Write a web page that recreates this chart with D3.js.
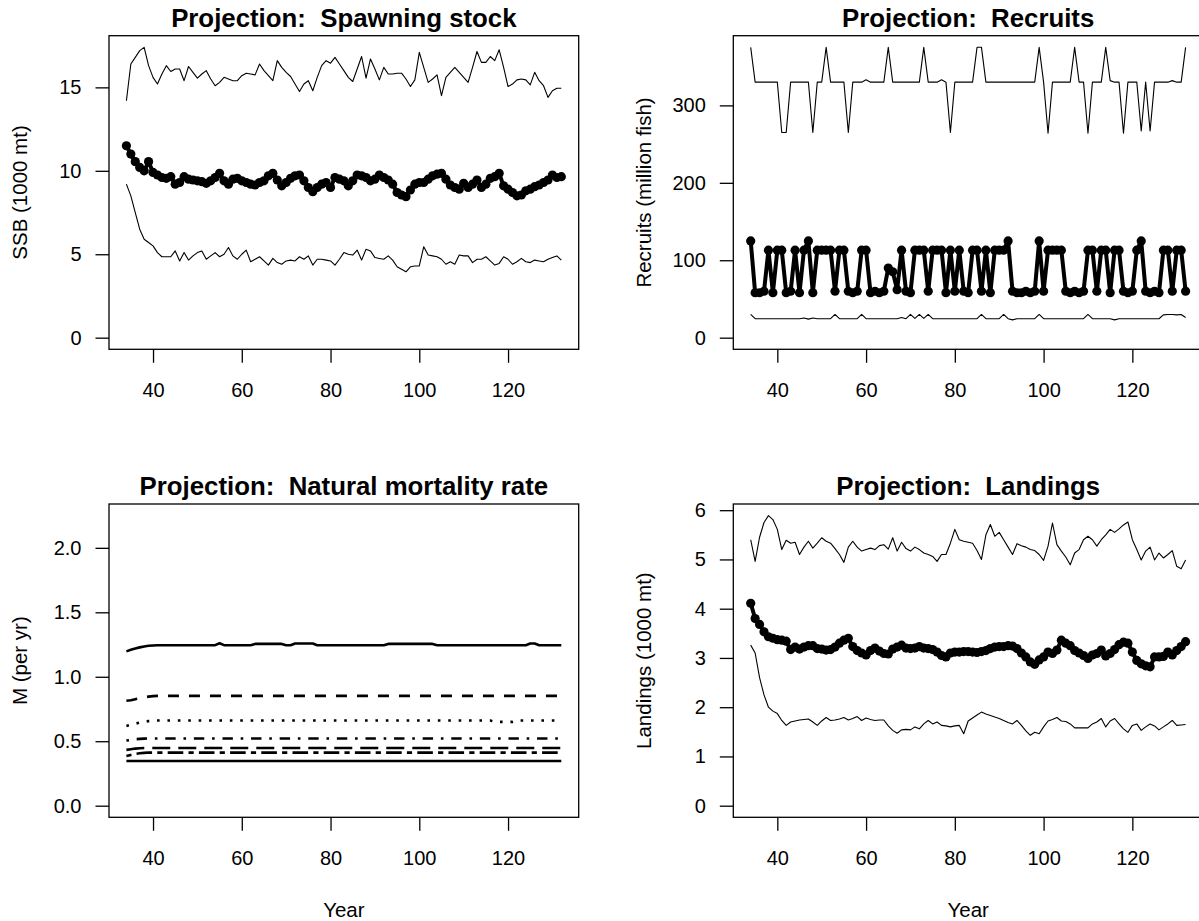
<!DOCTYPE html>
<html>
<head>
<meta charset="utf-8">
<script src="https://cdnjs.cloudflare.com/ajax/libs/d3/7.8.5/d3.min.js"></script>
<style>
  body { margin: 0; background: #fff; }
  svg { display: block; }
  text { font-family: "Liberation Sans", Arial, sans-serif; fill: #000; }
</style>
</head>
<body>
<svg></svg>
<script>
    /* data, years 34..132 */
    const years = d3.range(34, 133)
    const xTicks = [40, 60, 80, 100, 120]

    const ssbHigh = [14.2, 16.4, 16.8, 17.2, 17.4, 16.3, 15.6, 15.2, 15.8, 16.3,
        15.95, 16.1, 16.1, 15.4, 16.25, 15.9, 15.55, 15.8, 16.0, 15.5,
        15.1, 15.3, 15.6, 15.5, 15.4, 15.4, 15.7, 15.85, 15.8, 15.75,
        16.4, 16.0, 15.7, 15.4, 16.6, 16.2, 15.9, 15.65, 15.2, 14.75,
        15.2, 15.4, 14.8, 15.6, 16.3, 16.6, 16.45, 16.8, 16.4, 16.0,
        15.6, 15.35, 16.1, 16.85, 15.55, 16.7, 16.1, 15.45, 16.2, 15.8,
        15.8, 15.85, 15.85, 15.5, 15.05, 15.45, 17.1, 16.2, 15.3, 15.5,
        15.75, 14.5, 15.6, 15.9, 16.2, 15.9, 15.6, 15.3, 16.2, 17.15,
        16.5, 16.5, 16.85, 16.6, 17.25, 16.2, 15.05, 15.2, 15.45, 15.5,
        15.45, 15.15, 15.9, 15.4, 15.1, 14.4, 14.8, 14.95, 14.95]
    const ssbMid = [11.5, 11.0, 10.55, 10.2, 10.0, 10.55, 9.9, 9.75, 9.6, 9.55,
        9.65, 9.2, 9.3, 9.65, 9.5, 9.45, 9.4, 9.35, 9.25, 9.4,
        9.6, 9.85, 9.4, 9.2, 9.5, 9.55, 9.4, 9.3, 9.2, 9.15,
        9.3, 9.4, 9.7, 9.85, 9.45, 9.1, 9.3, 9.55, 9.7, 9.75,
        9.4, 9.0, 8.75, 9.0, 9.2, 9.3, 9.0, 9.6, 9.5, 9.4,
        9.1, 9.4, 9.75, 9.7, 9.6, 9.4, 9.5, 9.75, 9.6, 9.45,
        9.2, 8.7, 8.55, 8.45, 8.85, 9.2, 9.3, 9.3, 9.5, 9.7,
        9.8, 9.85, 9.5, 9.15, 9.0, 8.9, 9.25, 9.0, 9.2, 9.45,
        9.0, 9.2, 9.55, 9.65, 9.85, 9.1, 8.9, 8.7, 8.5, 8.55,
        8.8, 8.9, 9.05, 9.15, 9.3, 9.45, 9.75, 9.6, 9.65]
    const ssbLow = [9.2, 8.5, 7.5, 6.5, 5.9, 5.7, 5.5, 5.1, 4.85, 4.85,
        4.85, 5.2, 4.6, 5.1, 4.65, 4.9, 5.1, 5.2, 4.7, 4.9,
        5.1, 4.85, 5.0, 5.4, 4.9, 4.7, 5.0, 5.25, 4.55, 4.7,
        4.85, 4.6, 4.35, 4.75, 4.5, 4.4, 4.6, 4.65, 4.6, 4.85,
        4.7, 4.9, 4.35, 4.7, 4.7, 4.65, 4.6, 4.35, 4.7, 5.1,
        5.0, 4.95, 5.25, 4.65, 5.3, 5.2, 4.8, 4.75, 4.7, 4.9,
        4.65, 4.25, 4.1, 3.95, 4.25, 4.3, 4.3, 5.45, 4.95, 4.9,
        4.85, 4.7, 4.4, 4.55, 4.4, 4.95, 4.9, 4.9, 4.5, 4.7,
        4.7, 4.85, 4.6, 4.35, 4.45, 4.85, 4.7, 4.4, 4.55, 4.75,
        4.55, 4.5, 4.65, 4.6, 4.55, 4.7, 4.8, 4.9, 4.65]

    const recHigh = [375, 330, 330, 330, 330, 330, 330, 265, 265, 330,
        330, 330, 330, 330, 265, 330, 330, 375, 330, 330,
        330, 330, 265, 330, 330, 330, 333, 330, 330, 330,
        330, 375, 330, 330, 330, 330, 330, 330, 330, 375,
        330, 330, 330, 333, 330, 265, 330, 330, 330, 330,
        330, 375, 375, 330, 330, 330, 330, 330, 330, 330,
        330, 330, 330, 330, 330, 375, 330, 264, 330, 330,
        330, 330, 330, 375, 330, 330, 264, 330, 330, 330,
        375, 332, 330, 330, 264, 330, 330, 330, 267, 330,
        267, 330, 330, 330, 330, 332, 330, 330, 375]
    const recMid = [125, 58, 58, 60, 113, 58, 113, 113, 58, 60,
        113, 58, 113, 125, 58, 113, 113, 113, 113, 60,
        113, 113, 60, 58, 60, 113, 113, 58, 60, 58,
        60, 90, 85, 62, 113, 60, 58, 113, 113, 113,
        60, 113, 113, 113, 58, 113, 60, 113, 60, 58,
        113, 113, 60, 113, 58, 113, 113, 113, 125, 60,
        58, 58, 60, 58, 60, 125, 60, 113, 113, 113,
        113, 60, 58, 60, 58, 60, 113, 113, 60, 113,
        113, 58, 113, 113, 60, 58, 60, 113, 125, 60,
        58, 60, 58, 113, 113, 60, 113, 113, 60]
    const recLow = [30, 24.5, 24.5, 24.5, 24.5, 24.5, 24.5, 24.5, 24.5, 24.5,
        24.5, 24.5, 25.5, 24, 25.5, 24.5, 24.5, 24.5, 24.5, 30,
        24.5, 24.5, 24.5, 24.5, 24.5, 30, 24.5, 24.5, 24.5, 24.5,
        24.5, 24.5, 24.5, 24.5, 26, 24.5, 30, 25, 30, 25,
        30, 24.5, 24.5, 24.5, 24.5, 24.5, 24.5, 24.5, 24.5, 24.5,
        24.5, 24.5, 30, 24.5, 24.5, 24.5, 24.5, 30, 24.5, 23,
        24.5, 24.5, 24.5, 24.5, 24.5, 30, 24.5, 24.5, 24.5, 24.5,
        24.5, 24.5, 24.5, 24.5, 24.5, 24.5, 30, 24.5, 24.5, 24.5,
        24.5, 24.5, 23, 24.5, 24.5, 24.5, 24.5, 24.5, 24.5, 24.5,
        24.5, 24.5, 24.5, 29.5, 30, 30, 29.5, 30, 26]

    const mLine1 = [1.197, 1.21, 1.22, 1.228, 1.235, 1.24, 1.243, 1.245, 1.245, 1.245,
        1.245, 1.245, 1.245, 1.245, 1.245, 1.245, 1.245, 1.245, 1.245, 1.245,
        1.245, 1.26, 1.245, 1.245, 1.245, 1.245, 1.245, 1.245, 1.245, 1.255,
        1.255, 1.255, 1.255, 1.255, 1.255, 1.255, 1.245, 1.245, 1.258, 1.258,
        1.258, 1.258, 1.258, 1.245, 1.245, 1.245, 1.245, 1.245, 1.245, 1.245,
        1.245, 1.245, 1.245, 1.245, 1.245, 1.245, 1.245, 1.245, 1.245, 1.255,
        1.255, 1.255, 1.255, 1.255, 1.255, 1.255, 1.255, 1.255, 1.255, 1.255,
        1.245, 1.245, 1.245, 1.245, 1.245, 1.245, 1.245, 1.245, 1.245, 1.245,
        1.245, 1.245, 1.245, 1.245, 1.245, 1.245, 1.245, 1.245, 1.245, 1.245,
        1.245, 1.258, 1.258, 1.245, 1.245, 1.245, 1.245, 1.245, 1.245]
    const mLine2 = [0.814, 0.818, 0.826, 0.834, 0.84, 0.846, 0.85, 0.852, 0.852, 0.852,
        0.852, 0.852, 0.852, 0.852, 0.852, 0.852, 0.852, 0.852, 0.852, 0.852,
        0.852, 0.852, 0.852, 0.852, 0.852, 0.852, 0.852, 0.852, 0.852, 0.852,
        0.852, 0.852, 0.852, 0.852, 0.852, 0.852, 0.852, 0.852, 0.852, 0.852,
        0.852, 0.852, 0.852, 0.852, 0.852, 0.852, 0.852, 0.852, 0.852, 0.852,
        0.852, 0.852, 0.852, 0.852, 0.852, 0.852, 0.852, 0.852, 0.852, 0.852,
        0.852, 0.852, 0.852, 0.852, 0.852, 0.852, 0.852, 0.852, 0.852, 0.852,
        0.852, 0.852, 0.852, 0.852, 0.852, 0.852, 0.852, 0.852, 0.852, 0.852,
        0.852, 0.852, 0.852, 0.852, 0.852, 0.852, 0.852, 0.852, 0.852, 0.852,
        0.852, 0.852, 0.852, 0.852, 0.852, 0.852, 0.852, 0.852, 0.852]
    const mLine3 = [0.619, 0.628, 0.636, 0.645, 0.651, 0.656, 0.659, 0.661, 0.661, 0.661,
        0.661, 0.661, 0.661, 0.661, 0.661, 0.661, 0.661, 0.661, 0.661, 0.661,
        0.661, 0.661, 0.661, 0.661, 0.661, 0.661, 0.661, 0.661, 0.661, 0.661,
        0.661, 0.661, 0.661, 0.661, 0.661, 0.661, 0.661, 0.661, 0.661, 0.661,
        0.661, 0.661, 0.661, 0.661, 0.661, 0.661, 0.661, 0.661, 0.661, 0.661,
        0.661, 0.661, 0.661, 0.661, 0.661, 0.661, 0.661, 0.661, 0.661, 0.661,
        0.661, 0.661, 0.661, 0.661, 0.661, 0.661, 0.661, 0.661, 0.661, 0.661,
        0.661, 0.661, 0.661, 0.661, 0.661, 0.661, 0.661, 0.661, 0.661, 0.661,
        0.661, 0.661, 0.661, 0.65, 0.65, 0.65, 0.65, 0.65, 0.661, 0.661,
        0.661, 0.661, 0.661, 0.661, 0.661, 0.661, 0.661, 0.661, 0.661]
    const mLine4 = [0.505, 0.51, 0.516, 0.518, 0.52, 0.521, 0.521, 0.521, 0.521, 0.521,
        0.521, 0.521, 0.521, 0.521, 0.521, 0.521, 0.521, 0.521, 0.521, 0.521,
        0.521, 0.521, 0.521, 0.521, 0.521, 0.521, 0.521, 0.521, 0.521, 0.521,
        0.521, 0.521, 0.521, 0.521, 0.521, 0.521, 0.521, 0.521, 0.521, 0.521,
        0.521, 0.521, 0.521, 0.521, 0.521, 0.521, 0.521, 0.521, 0.521, 0.521,
        0.521, 0.521, 0.521, 0.521, 0.521, 0.521, 0.521, 0.521, 0.521, 0.521,
        0.521, 0.521, 0.521, 0.521, 0.521, 0.521, 0.521, 0.521, 0.521, 0.521,
        0.521, 0.521, 0.521, 0.521, 0.521, 0.521, 0.521, 0.521, 0.521, 0.521,
        0.521, 0.521, 0.521, 0.521, 0.521, 0.521, 0.521, 0.521, 0.521, 0.521,
        0.521, 0.521, 0.521, 0.521, 0.521, 0.521, 0.521, 0.521, 0.521]
    const mLine5 = [0.433, 0.438, 0.443, 0.446, 0.448, 0.448, 0.448, 0.448, 0.448, 0.448,
        0.448, 0.448, 0.448, 0.448, 0.448, 0.448, 0.448, 0.448, 0.448, 0.448,
        0.448, 0.448, 0.448, 0.448, 0.448, 0.448, 0.448, 0.448, 0.448, 0.448,
        0.448, 0.448, 0.448, 0.448, 0.448, 0.448, 0.448, 0.448, 0.448, 0.448,
        0.448, 0.448, 0.448, 0.448, 0.448, 0.448, 0.448, 0.448, 0.448, 0.448,
        0.448, 0.448, 0.448, 0.448, 0.448, 0.448, 0.448, 0.448, 0.448, 0.448,
        0.448, 0.448, 0.448, 0.448, 0.448, 0.448, 0.448, 0.448, 0.448, 0.448,
        0.448, 0.448, 0.448, 0.448, 0.448, 0.448, 0.448, 0.448, 0.448, 0.448,
        0.448, 0.448, 0.448, 0.448, 0.448, 0.448, 0.448, 0.448, 0.448, 0.448,
        0.448, 0.448, 0.448, 0.448, 0.448, 0.448, 0.448, 0.448, 0.448]
    const mLine6 = [0.386, 0.394, 0.402, 0.407, 0.41, 0.412, 0.412, 0.412, 0.412, 0.412,
        0.412, 0.412, 0.412, 0.412, 0.412, 0.412, 0.412, 0.412, 0.412, 0.412,
        0.412, 0.412, 0.412, 0.412, 0.412, 0.412, 0.412, 0.412, 0.412, 0.412,
        0.412, 0.412, 0.412, 0.412, 0.412, 0.412, 0.412, 0.412, 0.412, 0.412,
        0.412, 0.412, 0.412, 0.412, 0.412, 0.412, 0.412, 0.412, 0.412, 0.412,
        0.412, 0.412, 0.412, 0.412, 0.412, 0.412, 0.412, 0.412, 0.412, 0.412,
        0.412, 0.412, 0.412, 0.412, 0.412, 0.412, 0.412, 0.412, 0.412, 0.412,
        0.412, 0.412, 0.412, 0.412, 0.412, 0.412, 0.412, 0.412, 0.412, 0.412,
        0.412, 0.412, 0.412, 0.412, 0.412, 0.412, 0.412, 0.412, 0.412, 0.412,
        0.412, 0.412, 0.412, 0.412, 0.412, 0.412, 0.412, 0.412, 0.412]
    const mLine7 = [0.347, 0.347, 0.347, 0.347, 0.347, 0.347, 0.347, 0.347, 0.347, 0.347,
        0.347, 0.347, 0.347, 0.347, 0.347, 0.347, 0.347, 0.347, 0.347, 0.347,
        0.347, 0.347, 0.347, 0.347, 0.347, 0.347, 0.347, 0.347, 0.347, 0.347,
        0.347, 0.347, 0.347, 0.347, 0.347, 0.347, 0.347, 0.347, 0.347, 0.347,
        0.347, 0.347, 0.347, 0.347, 0.347, 0.347, 0.347, 0.347, 0.347, 0.347,
        0.347, 0.347, 0.347, 0.347, 0.347, 0.347, 0.347, 0.347, 0.347, 0.347,
        0.347, 0.347, 0.347, 0.347, 0.347, 0.347, 0.347, 0.347, 0.347, 0.347,
        0.347, 0.347, 0.347, 0.347, 0.347, 0.347, 0.347, 0.347, 0.347, 0.347,
        0.347, 0.347, 0.347, 0.347, 0.347, 0.347, 0.347, 0.347, 0.347, 0.347,
        0.347, 0.347, 0.347, 0.347, 0.347, 0.347, 0.347, 0.347, 0.347]

    const landHigh = [5.40, 4.96, 5.45, 5.75, 5.89, 5.81, 5.61, 5.2, 5.39, 5.33,
        5.35, 5.1, 5.25, 5.37, 5.23, 5.33, 5.44, 5.37, 5.33, 5.22,
        5.1, 4.94, 5.25, 5.37, 5.25, 5.17, 5.2, 5.23, 5.2, 5.28,
        5.3, 5.21, 5.44, 5.17, 5.35, 5.22, 5.17, 5.25, 5.2, 5.13,
        5.1, 5.06, 4.96, 5.1, 5.1, 5.33, 5.61, 5.4, 5.37, 5.35,
        5.33, 5.18, 5.0, 5.5, 5.71, 5.47, 5.55, 5.4, 5.25, 5.1,
        5.32, 5.28, 5.25, 5.2, 5.18, 5.1, 4.98, 5.27, 5.74, 5.3,
        5.17, 5.05, 4.89, 5.13, 5.2, 5.4, 5.47, 5.4, 5.27, 5.4,
        5.5, 5.61, 5.55, 5.62, 5.7, 5.76, 5.4, 5.2, 4.99, 5.17,
        5.25, 4.99, 5.13, 5.03, 5.1, 5.18, 4.86, 4.81, 4.99]
    const landMid = [4.11, 3.8, 3.68, 3.53, 3.43, 3.40, 3.37, 3.36, 3.34, 3.17,
        3.22, 3.18, 3.22, 3.25, 3.25, 3.19, 3.18, 3.16, 3.17, 3.22,
        3.3, 3.36, 3.40, 3.23, 3.15, 3.1, 3.06, 3.15, 3.2, 3.14,
        3.09, 3.08, 3.18, 3.22, 3.26, 3.2, 3.19, 3.2, 3.23, 3.2,
        3.19, 3.17, 3.12, 3.05, 3.02, 3.1, 3.12, 3.12, 3.13, 3.13,
        3.12, 3.11, 3.13, 3.15, 3.19, 3.22, 3.23, 3.23, 3.25, 3.24,
        3.19, 3.1, 3.02, 2.92, 2.87, 2.96, 3.02, 3.12, 3.09, 3.16,
        3.36, 3.3, 3.25, 3.15, 3.1, 3.05, 2.99, 3.06, 3.09, 3.16,
        3.04, 3.09, 3.17, 3.27, 3.32, 3.3, 3.12, 2.95, 2.88, 2.84,
        2.82, 3.02, 3.02, 3.03, 3.12, 3.06, 3.15, 3.23, 3.33]
    const landLow = [3.26, 3.1, 2.6, 2.25, 2.0, 1.92, 1.87, 1.73, 1.63, 1.70,
        1.72, 1.74, 1.75, 1.76, 1.70, 1.63, 1.72, 1.79, 1.73, 1.74,
        1.76, 1.79, 1.74, 1.77, 1.81, 1.73, 1.78, 1.75, 1.73, 1.74,
        1.74, 1.62, 1.53, 1.47, 1.54, 1.55, 1.54, 1.6, 1.56, 1.66,
        1.73, 1.66, 1.70, 1.63, 1.62, 1.6, 1.62, 1.63, 1.46, 1.72,
        1.78, 1.84, 1.9, 1.86, 1.83, 1.8, 1.77, 1.73, 1.69, 1.66,
        1.73, 1.63, 1.52, 1.43, 1.49, 1.46, 1.6, 1.72, 1.75, 1.79,
        1.72, 1.71, 1.66, 1.58, 1.58, 1.58, 1.58, 1.66, 1.70, 1.77,
        1.60, 1.72, 1.77, 1.66, 1.56, 1.49, 1.63, 1.66, 1.53, 1.6,
        1.66, 1.62, 1.54, 1.6, 1.66, 1.73, 1.63, 1.64, 1.65]

    /* layout, roughly R's par(mfrow=c(2,2)) */
    const width = 1199
    const height = 921
    const boxW = 469.7
    const tick = 13.5

    const svg = d3.select("svg").attr("width", width).attr("height", height)

    // R pads the axis range by 4% on each side
    const rPad = ([lo, hi]) => {
        let d = (hi - lo) * 0.04
        return [lo - d, hi + d]
    }

    const drawPanel = (p) => {
        const g = svg.append("g")
        const xScale = d3.scaleLinear().domain(rPad(d3.extent(years))).range([p.left, p.left + boxW])
        const yScale = d3.scaleLinear().domain(rPad(p.ylim)).range([p.bottom, p.top])

        let xAxis = d3.axisBottom(xScale).tickValues(xTicks).tickSize(tick).tickPadding(20)
        g.append("g").call(xAxis)
            .attr("transform", "translate(0, " + p.bottom + ")")
        let yAxis = d3.axisLeft(yScale).tickValues(p.ticks).tickFormat(p.fmt).tickSize(tick).tickPadding(14)
        g.append("g").call(yAxis)
            .attr("transform", "translate(" + p.left + ", 0)")

        g.selectAll(".domain").remove()
        g.selectAll(".tick line").attr("stroke", "#000").attr("stroke-width", 1.3)
        g.selectAll(".tick text").attr("fill", "#000").style("font-size", "20px")
            .style("font-family", "'Liberation Sans', Arial, sans-serif")

        g.append("rect")
            .attr("x", p.left).attr("y", p.top)
            .attr("width", boxW).attr("height", p.bottom - p.top)
            .attr("fill", "none").attr("stroke", "#000").attr("stroke-width", 1.3)

        const line = d3.line().x((d, i) => xScale(years[i])).y(d => yScale(d))

        p.lines.forEach(s => {
            g.append("path").datum(s.values)
                .attr("d", line)
                .attr("fill", "none")
                .attr("stroke", "#000")
                .attr("stroke-width", s.width || 1.1)
                .attr("stroke-dasharray", s.dash || null)
                .attr("stroke-linejoin", "round")
            if (s.dots) {
                g.append("g").selectAll("circle").data(s.values)
                    .enter().append("circle")
                    .attr("cx", (d, i) => xScale(years[i]))
                    .attr("cy", d => yScale(d))
                    .attr("r", 4.6)
                    .attr("fill", "#000")
            }
        })

        g.append("text")
            .attr("x", p.left + boxW / 2).attr("y", p.top - 8.7)
            .attr("text-anchor", "middle")
            .style("font-size", "25.8px").style("font-weight", "bold").style("white-space", "pre")
            .text(p.title)

        g.append("text")
            .attr("transform", "translate(" + (p.left - 82) + ", " + ((p.top + p.bottom) / 2) + ") rotate(-90)")
            .attr("text-anchor", "middle")
            .style("font-size", "20.5px")
            .text(p.ylab)

        if (p.xlab) {
            g.append("text")
                .attr("x", p.left + boxW / 2).attr("y", p.bottom + 100)
                .attr("text-anchor", "middle")
                .style("font-size", "20.5px")
                .text(p.xlab)
        }
    }

    const fmt0 = d3.format("d")
    const fmt1 = d3.format(".1f")

    drawPanel({
        left: 109, top: 35.7, bottom: 349.3,
        title: "Projection:  Spawning stock", ylab: "SSB (1000 mt)",
        ylim: [0, d3.max(ssbHigh)], ticks: [0, 5, 10, 15], fmt: fmt0,
        lines: [{values: ssbHigh}, {values: ssbLow}, {values: ssbMid, width: 4, dots: true}]
    })
    drawPanel({
        left: 733.3, top: 35.7, bottom: 349.3,
        title: "Projection:  Recruits", ylab: "Recruits (million fish)",
        ylim: [0, d3.max(recHigh)], ticks: [0, 100, 200, 300], fmt: fmt0,
        lines: [{values: recHigh}, {values: recLow}, {values: recMid, width: 4, dots: true}]
    })
    drawPanel({
        left: 109, top: 504, bottom: 817.3,
        title: "Projection:  Natural mortality rate", ylab: "M (per yr)", xlab: "Year",
        ylim: [0, 2.25], ticks: [0, 0.5, 1, 1.5, 2], fmt: fmt1,
        lines: [
            {values: mLine1, width: 2.6},
            {values: mLine2, width: 2.6, dash: "11,10"},
            {values: mLine3, width: 2.6, dash: "2.6,7.8"},
            {values: mLine4, width: 2.6, dash: "2.6,7.8,10.4,7.8"},
            {values: mLine5, width: 2.6, dash: "18,8"},
            {values: mLine6, width: 2.6, dash: "5.2,5.2,15.6,5.2"},
            {values: mLine7, width: 2.6}
        ]
    })
    drawPanel({
        left: 733.3, top: 504, bottom: 817.3,
        title: "Projection:  Landings", ylab: "Landings (1000 mt)", xlab: "Year",
        ylim: [0, d3.max(landHigh)], ticks: [0, 1, 2, 3, 4, 5, 6], fmt: fmt0,
        lines: [{values: landHigh}, {values: landLow}, {values: landMid, width: 4, dots: true}]
    })
</script>
</body>
</html>
